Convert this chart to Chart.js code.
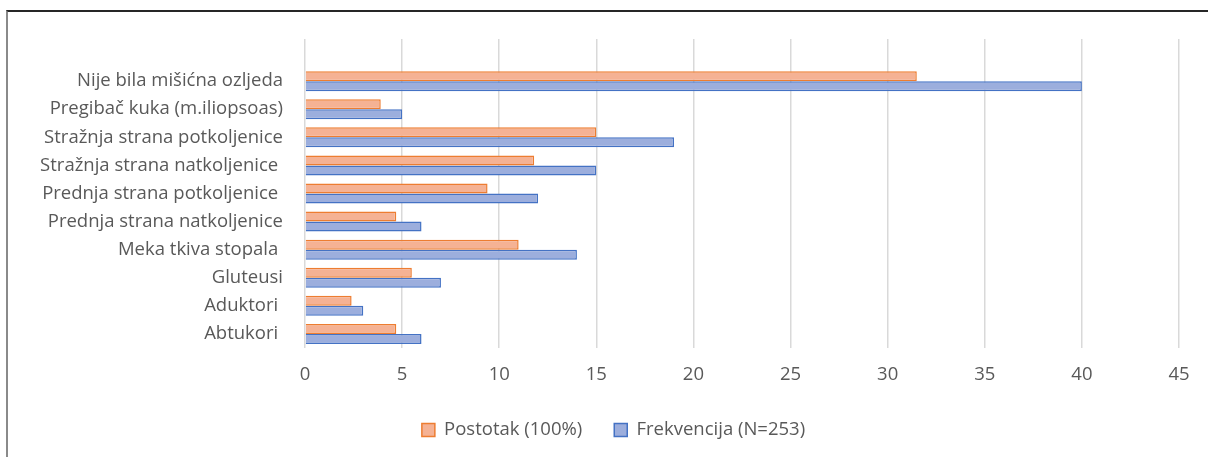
<!DOCTYPE html>
<html>
<head>
<meta charset="utf-8">
<script src="https://cdn.jsdelivr.net/npm/chart.js@4.4.1/dist/chart.umd.min.js"></script>
<style>
  html, body { margin:0; padding:0; background:#fff; }
  #frame {
    position:absolute; left:6px; top:10px; width:1202px; height:447px;
    border-top:2px solid #262626; border-left:2px solid #8a8a8a;
  }
  #wrap { position:absolute; left:0; top:0; width:1200px; height:445px; }
</style>
</head>
<body>
<div id="frame"><div id="wrap"><canvas id="chart"></canvas></div></div>
<script>
// data, top to bottom (first row is the empty slot Excel leaves at the top)
const categories = [
  "",
  "Nije bila mišićna ozljeda",
  "Pregibač kuka (m.iliopsoas)",
  "Stražnja strana potkoljenice",
  "Stražnja strana natkoljenice ",
  "Prednja strana potkoljenice ",
  "Prednja strana natkoljenice",
  "Meka tkiva stopala ",
  "Gluteusi",
  "Aduktori ",
  "Abtukori "
];
const postotak    = [null, 31.5, 3.9, 15.0, 11.8, 9.4, 4.7, 11.0, 5.5, 2.4, 4.7];
const frekvencija = [null, 40, 5, 19, 15, 12, 6, 14, 7, 3, 6];
const xTicks = [0, 5, 10, 15, 20, 25, 30, 35, 40, 45];

const FONT = "Open Sans";
const SIZE = 18.5;
const GREY = "#595959";

// nudge the centred legend a bit to the right, like in the original
const legendShift = {
  id: "legendShift",
  afterLayout(chart){ if(chart.legend) chart.legend.left += 40; }
};

new Chart(document.getElementById("chart"), {
  type: "bar",
  data: {
    labels: categories,
    datasets: [
      { label:"Postotak (100%)", data: postotak,
        backgroundColor:"#f5b294", borderColor:"#ed7d31", borderWidth:1.5 },
      { label:"Frekvencija (N=253)", data: frekvencija,
        backgroundColor:"#9caedd", borderColor:"#4472c4", borderWidth:1.5 }
    ]
  },
  plugins: [legendShift],
  options: {
    indexAxis: "y",
    responsive: true,
    maintainAspectRatio: false,
    animation: false,
    datasets: { bar: { categoryPercentage: 0.712, barPercentage: 1.0 } },
    layout: { padding: { top: 27, right: 29, left: 0, bottom: 7.75 } },
    plugins: {
      tooltip: { enabled:false },
      legend: {
        position: "bottom",
        labels: { font:{family:FONT, size:SIZE}, color:GREY, boxWidth:13, boxHeight:13, padding:32 }
      }
    },
    scales: {
      x: {
        min: xTicks[0], max: xTicks[xTicks.length-1],
        afterBuildTicks: s => { s.ticks = xTicks.map(v => ({value:v})); },
        grid: { color:"#d9d9d9", lineWidth:1.5, drawTicks:false, tickLength:0 },
        border: { display:false },
        ticks: { font:{family:FONT, size:SIZE}, color:GREY, padding:16 },
        afterFit: s => { s.height = 40.75; }
      },
      y: {
        grid: { display:false, drawTicks:false, tickLength:0 },
        border: { display:false },
        ticks: { font:{family:FONT, size:SIZE}, color:GREY, padding:22, autoSkip:false },
        afterFit: s => { s.width = 297; s.paddingTop = 0; s.paddingBottom = 0; }
      }
    }
  }
});
</script>
</body>
</html>
